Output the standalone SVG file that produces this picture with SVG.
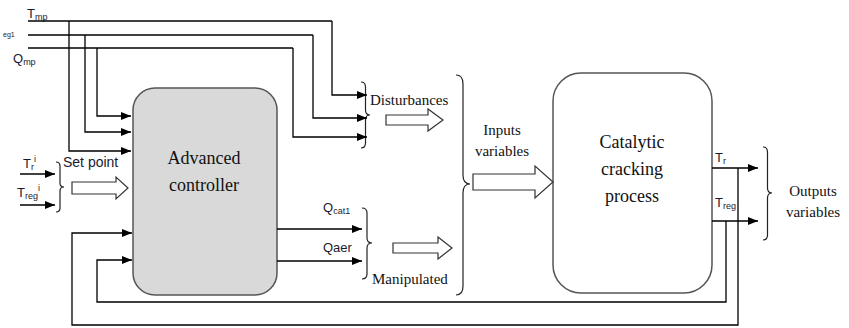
<svg xmlns="http://www.w3.org/2000/svg" width="849" height="328" viewBox="0 0 849 328">
<defs>
<marker id="ah" markerWidth="10" markerHeight="8" refX="10" refY="4" orient="auto" markerUnits="userSpaceOnUse">
<path d="M0,0 L10,4 L0,8 Z" fill="#000"/>
</marker>
<style>
.ln{fill:none;stroke:#000;stroke-width:1.3}
.ar{fill:none;stroke:#000;stroke-width:1.3;marker-end:url(#ah)}
.br{fill:none;stroke:#222;stroke-width:1.2}
.ha{fill:#fff;stroke:#333;stroke-width:1.2}
.lab{font-family:"Liberation Sans",Arial,sans-serif;fill:#1a1a2e}
.sub{font-size:9px}
.ser{font-family:"Liberation Serif","DejaVu Serif","Times New Roman",serif;fill:#111}
</style>
</defs>
<rect width="849" height="328" fill="#fff"/>

<g id="controller">
<rect x="133" y="88" width="144" height="207" rx="22" ry="22" fill="#d9d9d9" stroke="#555" stroke-width="1.5"/>
<text class="ser" x="204" y="164" style="font-size:18px" text-anchor="middle">Advanced</text>
<text class="ser" x="204" y="191" style="font-size:18px" text-anchor="middle">controller</text>
</g>

<g id="process">
<rect x="553" y="73" width="159" height="220" rx="28" ry="28" fill="#fff" stroke="#555" stroke-width="1.5"/>
<text class="ser" x="632" y="148" style="font-size:18px" text-anchor="middle">Catalytic</text>
<text class="ser" x="632" y="175" style="font-size:18px" text-anchor="middle">cracking</text>
<text class="ser" x="632" y="202" style="font-size:18px" text-anchor="middle">process</text>
</g>

<g id="labels">
<text class="lab" x="27" y="18" style="font-size:13px">T<tspan class="sub" dy="2">mp</tspan></text>
<text class="lab" x="3" y="37" style="font-size:7px">eg1</text>
<text class="lab" x="13" y="63" style="font-size:13px">Q<tspan class="sub" dy="2">mp</tspan></text>
<text class="lab" x="23" y="168" style="font-size:13px">T<tspan class="sub" dy="2">r</tspan><tspan class="sub" dy="-8">i</tspan></text>
<text class="lab" x="17" y="197" style="font-size:13px">T<tspan class="sub" dy="2">reg</tspan><tspan class="sub" dy="-8">i</tspan></text>
<text class="lab" x="63" y="167" style="font-size:14px">Set point</text>
<text class="lab" x="323" y="212" style="font-size:13px">Q<tspan class="sub" dy="2">cat1</tspan></text>
<text class="lab" x="323" y="252" style="font-size:13px">Qaer</text>
<text class="lab" x="715" y="162" style="font-size:13px">T<tspan class="sub" dy="2">r</tspan></text>
<text class="lab" x="715" y="207" style="font-size:13px">T<tspan class="sub" dy="2">reg</tspan></text>
<text class="ser" x="370" y="105" style="font-size:15px">Disturbances</text>
<text class="ser" x="372" y="284" style="font-size:15px">Manipulated</text>
<text class="ser" x="502" y="135" style="font-size:15px" text-anchor="middle">Inputs</text>
<text class="ser" x="502" y="156" style="font-size:15px" text-anchor="middle">variables</text>
<text class="ser" x="813" y="196" style="font-size:15px" text-anchor="middle">Outputs</text>
<text class="ser" x="813" y="217" style="font-size:15px" text-anchor="middle">variables</text>
</g>

<g id="braces">
<path class="br" d="M56,162 Q60,162 60,166 L60,183 Q60,187 64,187 Q60,187 60,191 L60,208 Q60,212 56,212"/>
<path class="br" d="M361,82 Q365.5,82 365.5,87 L365.5,110 Q365.5,115 370,115 Q365.5,115 365.5,120 L365.5,143 Q365.5,148 361,148"/>
<path class="br" d="M362,208 Q367,208 367,213 L367,238 Q367,243 372,243 Q367,243 367,248 L367,274 Q367,279 362,279"/>
<path class="br" d="M456,75 Q463,75 463,84 L463,175 Q463,184 470,184 Q463,184 463,193 L463,286 Q463,295 456,295"/>
<path class="br" d="M763,147 Q767.5,147 767.5,152 L767.5,188 Q767.5,193 772,193 Q767.5,193 767.5,198 L767.5,235 Q767.5,240 763,240"/>
</g>

<g id="hollow-arrows">
<path class="ha" d="M72,182 L116,182 L116,177 L128,188 L116,199 L116,194 L72,194 Z"/>
<path class="ha" d="M386,115 L428,115 L428,109 L443,120 L428,131 L428,125 L386,125 Z"/>
<path class="ha" d="M393,243 L438,243 L438,237 L452,248 L438,259 L438,253 L393,253 Z"/>
<path class="ha" d="M473,174 L535,174 L535,166 L553,182 L535,198 L535,190 L473,190 Z"/>
</g>

<g id="connectors">
<path class="ln" d="M28,21 L332,21"/>
<path class="ln" d="M28,35 L313,35"/>
<path class="ln" d="M28,48 L293,48"/>
<path class="ar" d="M332,21 L332,95 L367,95"/>
<path class="ar" d="M313,35 L313,118 L367,118"/>
<path class="ar" d="M293,48 L293,137 L367,137"/>
<path class="ar" d="M69,21 L69,151 L131,151"/>
<path class="ar" d="M85,35 L85,132 L131,132"/>
<path class="ar" d="M97,48 L97,116 L131,116"/>
<path class="ar" d="M20,174 L55,174"/>
<path class="ar" d="M20,205 L55,205"/>
<path class="ar" d="M277,229 L362,229"/>
<path class="ar" d="M277,261 L362,261"/>
<path class="ar" d="M712,168 L758,168"/>
<path class="ar" d="M712,221 L758,221"/>
<path class="ar" d="M738,168 L738,325 L72,325 L72,233 L132,233"/>
<path class="ar" d="M726,221 L726,302 L97,302 L97,260 L132,260"/>
</g>
</svg>
